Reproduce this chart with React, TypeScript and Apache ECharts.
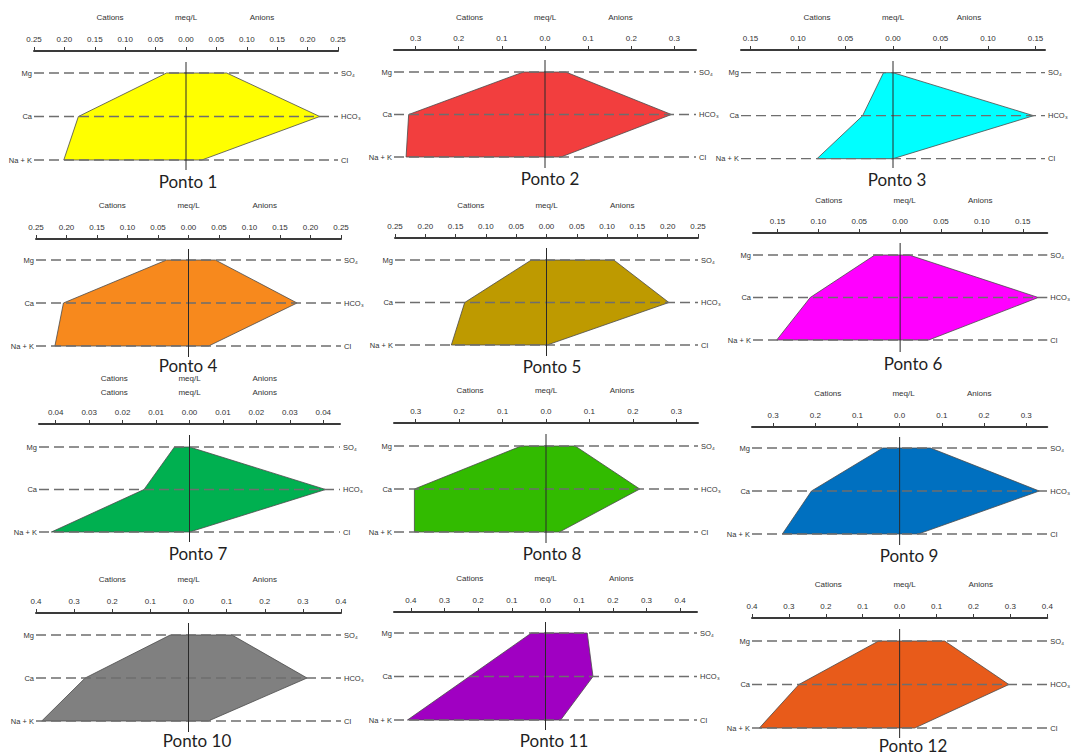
import React, { useEffect, useRef } from "react";
import * as echarts from "echarts";

// ---------- data ----------
const pontoNames = ["Ponto 1", "Ponto 2", "Ponto 3", "Ponto 4", "Ponto 5", "Ponto 6", "Ponto 7", "Ponto 8", "Ponto 9", "Ponto 10", "Ponto 11", "Ponto 12"];
const cationLabels = ["Na + K", "Ca", "Mg"];
const anionLabels = ["Cl", "HCO\u2083", "SO\u2084"];
const headerLabels = ["Cations", "meq/L", "Anions"];

// meq/L
const mg = [0.032, 0.050, 0.010, 0.036, 0.025, 0.031, 0.0045, 0.057, 0.040, 0.048, 0.042, 0.057];
const ca = [0.177, 0.316, 0.032, 0.205, 0.135, 0.110, 0.0136, 0.303, 0.209, 0.271, 0.226, 0.273];
const nak = [0.201, 0.322, 0.080, 0.219, 0.157, 0.151, 0.0413, 0.303, 0.278, 0.385, 0.410, 0.380];
const so4 = [0.067, 0.048, 0.000, 0.044, 0.111, 0.011, 0.0000, 0.067, 0.073, 0.114, 0.124, 0.122];
const hco3 = [0.220, 0.293, 0.148, 0.178, 0.202, 0.169, 0.0407, 0.216, 0.331, 0.311, 0.141, 0.296];
const cl = [0.026, 0.037, 0.000, 0.033, 0.001, 0.035, 0.0000, 0.031, 0.044, 0.052, 0.045, 0.041];

// tick labels
const ticks025 = [-0.25, -0.2, -0.15, -0.1, -0.05, 0, 0.05, 0.1, 0.15, 0.2, 0.25];
const ticks03 = [-0.3, -0.2, -0.1, 0, 0.1, 0.2, 0.3];
const ticks015 = [-0.15, -0.1, -0.05, 0, 0.05, 0.1, 0.15];
const ticks004 = [-0.04, -0.03, -0.02, -0.01, 0, 0.01, 0.02, 0.03, 0.04];
const ticks04 = [-0.4, -0.3, -0.2, -0.1, 0, 0.1, 0.2, 0.3, 0.4];
const panelTicks = [ticks025, ticks03, ticks015, ticks025, ticks025, ticks015, ticks004, ticks03, ticks03, ticks04, ticks04, ticks04];
const panelRange = [0.25, 0.35, 0.16, 0.25, 0.25, 0.18, 0.045, 0.35, 0.35, 0.4, 0.45, 0.4];
const panelDecimals = [2, 1, 2, 2, 2, 2, 2, 1, 1, 1, 1, 1];

// ---------- styles / layout ----------
const fills = ["#FFFF00", "#F23E3E", "#00FFFF", "#F7891D", "#BE9A00", "#FF00FF", "#00B050", "#32BB00", "#0070C0", "#808080", "#A000C2", "#E85B1A"];

// axL, axR, axY, hdrY, rowTop, rowBot, vTop, vBot, titleX, titleY
const layout = [
  [34, 338, 51, 17, 73, 160, 62, 170, 188, 181],
  [394, 696, 50, 17, 72, 157, 60, 168, 550, 178],
  [741, 1045, 50, 17, 72.7, 158.7, 61, 168, 897, 179],
  [36, 341, 239, 205, 260, 346, 249, 357, 188, 365],
  [395, 698, 238, 205, 260, 345, 248, 356, 552, 366],
  [753, 1056, 233, 200, 255, 340, 243, 352, 913, 363],
  [39, 340, 424, 392, 447, 532, 435, 542, 198, 553],
  [394, 698, 423, 390, 446, 532, 434, 543, 552, 553],
  [752, 1055, 427, 393, 448, 534, 437, 545, 909, 555],
  [36, 341, 613, 579, 635, 721, 623, 732, 197, 740],
  [394, 697, 612, 578, 633, 720, 622, 730, 554, 740],
  [752, 1057, 618, 584, 641, 728, 629, 738, 913, 745],
];

const smallFont = "'Liberation Sans', Arial, sans-serif";
const textColor = "#333";

function buildOption() {
  const grid: any[] = [];
  const xAxis: any[] = [];
  const yAxis: any[] = [];
  const series: any[] = [];
  const graphic: any[] = [];

  pontoNames.forEach((name, i) => {
    const [axL, axR, axY, hdrY, rowTop, rowBot, vTop, vBot, tX, tY] = layout[i];
    const ppu = (rowBot - rowTop) / 2;
    const ymax = 3 + (rowTop - vTop) / ppu;
    const ymin = 1 - (vBot - rowBot) / ppu;
    const R = panelRange[i];
    const dec = panelDecimals[i];

    grid.push({ left: axL, top: vTop, width: axR - axL, height: vBot - vTop, containLabel: false });

    xAxis.push({
      gridIndex: i,
      type: "value",
      position: "top",
      min: -R,
      max: R,
      offset: vTop - axY,
      axisLine: { show: true, onZero: false, lineStyle: { color: "#3a3a3a", width: 2 } },
      axisTick: { show: true, customValues: panelTicks[i], length: 4, lineStyle: { color: "#3a3a3a", width: 1 } },
      axisLabel: {
        show: true,
        customValues: panelTicks[i],
        formatter: (v: number) => Math.abs(v).toFixed(dec),
        fontSize: 8,
        margin: 8,
        color: textColor,
        fontFamily: smallFont,
      },
      splitLine: { show: false },
    });

    const yBase = {
      gridIndex: i,
      type: "value",
      min: ymin,
      max: ymax,
      axisLine: { show: false },
      axisTick: { show: false },
      splitLine: { show: false },
    };
    yAxis.push({
      ...yBase,
      position: "left",
      axisLabel: {
        customValues: [1, 2, 3],
        formatter: (v: number) => cationLabels[Math.round(v) - 1],
        fontSize: 7.5,
        margin: 2,
        color: textColor,
        fontFamily: smallFont,
      },
    });
    yAxis.push({
      ...yBase,
      position: "right",
      axisLabel: {
        customValues: [1, 2, 3],
        formatter: (v: number) => anionLabels[Math.round(v) - 1],
        fontSize: 7.5,
        margin: 3,
        color: textColor,
        fontFamily: smallFont,
      },
    });

    const fill = fills[i];
    const item = [mg[i], ca[i], nak[i], so4[i], hco3[i], cl[i]];
    // Stiff polygon
    series.push({
      type: "custom",
      xAxisIndex: i,
      yAxisIndex: 2 * i,
      clip: false,
      silent: true,
      z: 2,
      data: [item],
      renderItem: (params: any, api: any) => {
        const pts = [
          [-api.value(0), 3],
          [-api.value(1), 2],
          [-api.value(2), 1],
          [api.value(5), 1],
          [api.value(4), 2],
          [api.value(3), 3],
        ].map((p) => api.coord(p));
        return { type: "polygon", shape: { points: pts }, style: { fill, stroke: "#4a4a4a", lineWidth: 0.8 } };
      },
    });
    // guide lines on top of polygon
    series.push({
      type: "custom",
      xAxisIndex: i,
      yAxisIndex: 2 * i,
      clip: false,
      silent: true,
      z: 4,
      data: [item],
      renderItem: (params: any, api: any) => {
        const cs = params.coordSys;
        const children: any[] = [];
        [1, 2, 3].forEach((r) => {
          const y = api.coord([0, r])[1];
          children.push({
            type: "line",
            shape: { x1: cs.x, y1: y, x2: cs.x + cs.width, y2: y },
            style: { stroke: "#6e6e6e", lineWidth: 1.3, lineDash: [10, 5], fill: null },
          });
        });
        const x0 = api.coord([0, 2])[0];
        children.push({
          type: "line",
          shape: { x1: x0, y1: cs.y, x2: x0, y2: cs.y + cs.height },
          style: { stroke: "#2a2a2a", lineWidth: 1 },
        });
        return { type: "group", children };
      },
    });

    const w = axR - axL;
    const hx = [axL + w / 4, axL + w / 2, axR - w / 4];
    const hdrRows = i === 6 ? [hdrY - 14, hdrY] : [hdrY];
    hdrRows.forEach((hy) => {
      headerLabels.forEach((t, k) => {
        graphic.push({
          type: "text",
          x: hx[k],
          y: hy,
          style: { text: t, fontSize: 8, fill: textColor, fontFamily: smallFont, align: "center", verticalAlign: "middle" },
        });
      });
    });

    graphic.push({
      type: "text",
      x: tX,
      y: tY,
      style: { text: name, fontSize: 17, fill: "#1f1f1f", fontFamily: "Lato, 'Open Sans', sans-serif", align: "center", verticalAlign: "middle" },
    });
  });

  return {
    animation: false,
    backgroundColor: "#ffffff",
    grid,
    xAxis,
    yAxis,
    series,
    graphic,
  };
}

export default function App() {
  const ref = useRef<HTMLDivElement>(null);
  useEffect(() => {
    if (!ref.current) return;
    const chart = echarts.init(ref.current, undefined, { renderer: "svg" });
    chart.setOption(buildOption() as any);
    return () => chart.dispose();
  }, []);
  return (
    <div
      ref={ref}
      style={{ position: "absolute", left: 0, top: 0, width: 1073, height: 754, background: "#fff" }}
    />
  );
}
